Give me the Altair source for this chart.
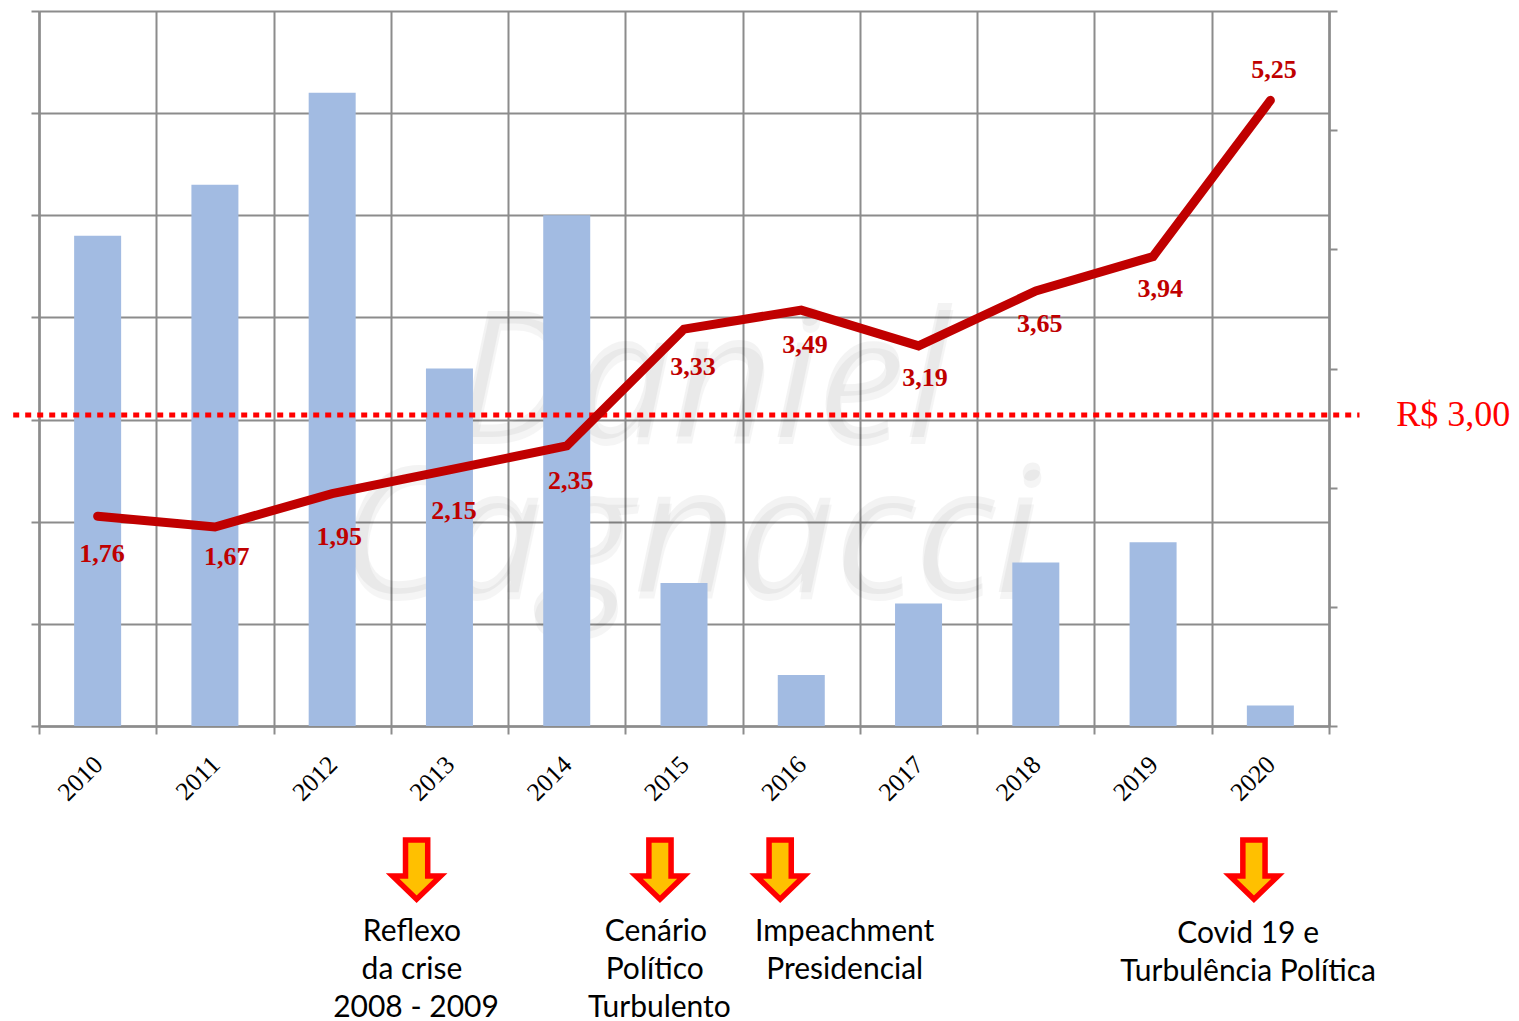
import altair as alt
import pandas as pd

years = [2010, 2011, 2012, 2013, 2014, 2015, 2016, 2017, 2018, 2019, 2020]
bar_values = [4.8, 5.3, 6.2, 3.5, 5.0, 1.4, 0.5, 1.2, 1.6, 1.8, 0.2]
line_values = [1.76, 1.67, 1.95, 2.15, 2.35, 3.33, 3.49, 3.19, 3.65, 3.94, 5.25]
line_labels = ["1,76", "1,67", "1,95", "2,15", "2,35", "3,33", "3,49", "3,19", "3,65", "3,94", "5,25"]
label_shift = [0.038, 0.102, 0.06, 0.039, 0.034, 0.077, 0.032, 0.055, 0.034, 0.06, 0.032]
label_level = [1.444, 1.419, 1.586, 1.805, 2.056, 3.013, 3.198, 2.921, 3.374, 3.667, 5.505]

arrow_x = [2012.72, 2014.795, 2015.82, 2019.86]
note_text = ["Reflexo", "da crise", "2008 - 2009", "Cenário", "Político", "Turbulento",
             "Impeachment", "Presidencial", "Covid 19 e", "Turbulência Política"]
note_x = [2012.68, 2012.68, 2012.715, 2014.76, 2014.75, 2014.79, 2016.37, 2016.37, 2019.81, 2019.81]
note_y = [-2.017, -2.389, -2.761, -2.017, -2.389, -2.761, -2.017, -2.389, -2.037, -2.409]
watermark_text = ["Daniel", "Cagnacci"]
watermark_x = [2015.15, 2015.04]
watermark_y = [2.83, 1.312]

df = pd.DataFrame({"year": years, "bar": bar_values, "line": line_values, "label": line_labels,
                   "lx": [y + s for y, s in zip(years, label_shift)], "ly": label_level})
notes = pd.DataFrame({"t": note_text, "x": note_x, "y": note_y})
arrows = pd.DataFrame({"x": arrow_x, "y": [-1.41] * 4})
wm = pd.DataFrame({"t": watermark_text, "x": watermark_x, "y": watermark_y})
level = pd.DataFrame({"x": [2009.28], "x2": [2020.76], "y": [3.045]})
level_label = pd.DataFrame({"t": ["R$ 3,00"], "x": [2021.56], "y": [3.044]})

GRID = "#8c8c8c"
xs = alt.Scale(domain=[2009.5, 2020.5], nice=False, zero=False, padding=0)
yl = alt.Scale(domain=[0, 7], nice=False, zero=False)
yr = alt.Scale(domain=[0, 6], nice=False, zero=False)

x_axis = alt.Axis(values=[2009.5 + i for i in range(12)], title=None, grid=True, gridColor=GRID, gridWidth=2,
                  domainColor=GRID, domainWidth=2.5, tickColor=GRID, tickWidth=2, tickSize=8,
                  labelExpr="datum.value < 2020 ? '' + (floor(datum.value) + 1) : ''",
                  labelAngle=-45, labelAlign="right", labelBaseline="middle", labelFont="Liberation Serif",
                  labelFontSize=25.5, labelColor="#000000", labelOffset=59, labelPadding=26, labelOverlap=False, labelFlush=False)
left_axis = alt.Axis(values=list(range(8)), title=None, grid=True, gridColor=GRID, gridWidth=2,
                     domainColor=GRID, domainWidth=2.5, tickColor=GRID, tickWidth=2, tickSize=8, labels=False)
right_axis = alt.Axis(values=list(range(7)), orient="right", title=None, grid=False,
                      domainColor=GRID, domainWidth=2.5, tickColor=GRID, tickWidth=2, tickSize=8, labels=False)
X = alt.X("x:Q", scale=xs, axis=x_axis)
Y = alt.Y("y:Q", scale=yl, axis=None)

wm_font = dict(font="Open Sans", fontStyle="italic", fontSize=176, align="center", baseline="alphabetic")
wm_shadow = alt.Chart(wm).mark_text(color="#000000", opacity=0.035, dx=1, dy=7, **wm_font).encode(x=X, y=Y, text="t:N")
wm_main = alt.Chart(wm).mark_text(color="#000000", opacity=0.045, **wm_font).encode(x=X, y=Y, text="t:N")

bars = alt.Chart(df).mark_bar(color="#A2BBE2", size=47).encode(
    x=alt.X("year:Q", scale=xs, axis=x_axis),
    y=alt.Y("bar:Q", scale=yl, axis=left_axis),
)
dotted = alt.Chart(level).mark_rule(color="#FF0000", strokeWidth=5, strokeDash=[6, 6]).encode(
    x=X, x2="x2:Q", y=Y)
level_text = alt.Chart(level_label).mark_text(font="Liberation Serif", fontSize=36, color="#FF0000",
                                              align="center", baseline="middle").encode(x=X, y=Y, text="t:N")
line = alt.Chart(df).mark_line(color="#C00000", strokeWidth=9, strokeCap="round", strokeJoin="miter").encode(
    x=alt.X("year:Q", scale=xs, axis=x_axis),
    y=alt.Y("line:Q", scale=yr, axis=right_axis),
)
labels = alt.Chart(df).mark_text(font="Liberation Serif", fontWeight="bold", fontSize=26, color="#C00000",
                                 align="center", baseline="middle").encode(
    x=alt.X("lx:Q", scale=xs, axis=x_axis),
    y=alt.Y("ly:Q", scale=yr, axis=None),
    text="label:N",
)
arrow_path = "M -0.37 -1 L 0.37 -1 L 0.37 0.2 L 0.8 0.2 L 0 0.97 L -0.8 0.2 L -0.37 0.2 Z"
arrow_marks = alt.Chart(arrows).mark_point(shape=arrow_path, size=3600, filled=True, fill="#FFC000", fillOpacity=1,
                                           stroke="#FF0000", strokeWidth=5.5, strokeOpacity=1,
                                           strokeJoin="miter", opacity=1).encode(x=X, y=Y)
note_marks = alt.Chart(notes).mark_text(font="Lato", fontSize=30, color="#000000",
                                        align="center", baseline="middle").encode(x=X, y=Y, text="t:N")

chart = alt.layer(wm_shadow, wm_main, bars, dotted, level_text, line, labels, arrow_marks, note_marks).resolve_scale(
    y="independent"
).properties(
    width=1290, height=715,
    padding={"left": 31, "top": 3, "right": 182, "bottom": 296},
    autosize=alt.AutoSizeParams(type="none"),
    background="#ffffff",
).configure_view(stroke=None)

chart.save("out.html", embed_options={"renderer": "svg", "actions": False})
